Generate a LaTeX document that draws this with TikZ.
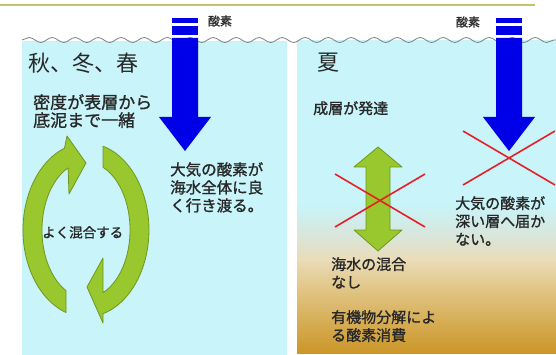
\documentclass[tikz,border=0pt]{standalone}
\usepackage{fontspec}
\setmainfont{Noto Sans CJK JP}
\newfontfamily\heavyjp{Noto Sans CJK JP}[FakeBold=1.2]
\usetikzlibrary{positioning,decorations.pathmorphing}

\definecolor{seacyan}{RGB}{200,244,250}
\definecolor{hazegray}{RGB}{216,230,220}
\definecolor{paletan}{RGB}{234,220,184}
\definecolor{sandtan}{RGB}{224,196,130}
\definecolor{mudbrown}{RGB}{204,150,40}
\definecolor{oxyblue}{RGB}{0,0,232}
\definecolor{mixgreen}{RGB}{152,200,46}
\definecolor{mixedge}{RGB}{112,150,30}
\definecolor{crossred}{RGB}{232,30,40}
\definecolor{labelgray}{RGB}{40,40,40}
\definecolor{rimolive}{RGB}{196,196,110}

% summer column: clear water on top, muddy layer below
\pgfdeclareverticalshading{summersea}{100bp}{color(0bp)=(mudbrown); color(25bp)=(mudbrown);
  color(35bp)=(sandtan); color(40bp)=(paletan); color(44bp)=(hazegray);
  color(49bp)=(seacyan); color(100bp)=(seacyan)}

\begin{document}
\begin{tikzpicture}[x=1pt, y=-1pt]
        \tikzstyle{label}=[inner sep=0pt, align=left, anchor=north west, text=labelgray,
            font=\heavyjp\fontsize{15}{18}\selectfont];
        \tikzstyle{season}=[inner sep=0pt, anchor=west, text=labelgray, font=\fontsize{22}{26}\selectfont];
        \tikzstyle{oxy}=[inner sep=0pt, text=labelgray, font=\heavyjp\fontsize{12}{14}\selectfont];
        \tikzstyle{mixing}=[fill=mixgreen, draw=mixedge, line width=0.8pt, line join=round];
        \tikzstyle{blocked}=[draw=crossred, line width=1.6pt];
        \useasboundingbox (0,0) rectangle (556,355);

        % water columns
        \fill[seacyan] (22,41) rectangle (287,355);
        \shade[shading=summersea] (297,41) rectangle (556,353);
        \draw[rimolive, line width=1.5pt] (0,5) -- (535,5);
        \draw[gray, line width=0.8pt, decorate,
            decoration={snake, segment length=23pt, amplitude=2.5pt}] (22,40) -- (556,40);

        % oxygen from the air
        \foreach \cx in {185,509} {
            \fill[oxyblue] (\cx-13,18) rectangle (\cx+13,23);
            \fill[oxyblue] (\cx-13,26) rectangle (\cx+13,35);
            \fill[oxyblue] (\cx-13,38) -- (\cx+13,38) -- (\cx+13,117) -- (\cx+26,117)
                -- (\cx,151) -- (\cx-26,117) -- (\cx-13,117) -- cycle;
        }
        \node[oxy] (o2-l) at (220,21) {酸素};
        \node[oxy] (o2-r) at (468,22) {酸素};

        % autumn / winter / spring
        \node[season] (cold) at (28,63) {秋、冬、春};
        \node[label, font=\heavyjp\fontsize{17}{18}\selectfont] (dens) at (33,94) {密度が表層から\\底泥まで一緒};
        \fill[mixing] (66,312.5) arc[start angle=108.5, end angle=250, x radius=63, y radius=87]
            -- (67,136) -- (86,163) -- (69,194) -- (68.1,167.9)
            arc[start angle=246, end angle=117, x radius=44, y radius=68] -- cycle;
        \fill[mixing] (103,146.2) arc[start angle=285.7, end angle=434.3, x radius=63, y radius=87]
            -- (103,323) -- (87,287) -- (103,258) -- (103,292.7)
            arc[start angle=427.3, end angle=292.7, x radius=44, y radius=68] -- cycle;
        \node[label, font=\heavyjp\fontsize{13.5}{18}\selectfont] (well) at (42,226) {よく混合する};
        \node[label, font=\heavyjp\fontsize{15.5}{18}\selectfont] (air-l) at (170,162) {大気の酸素が\\海水全体に良\\く行き渡る。};

        % summer
        \node[season] (warm) at (317,63) {夏};
        \node[label] (strat) at (313,101) {成層が発達};
        \fill[mixing] (378,147) -- (402,167) -- (390,167) -- (390,230) -- (402,230) -- (378,251)
            -- (354,230) -- (366,230) -- (366,167) -- (354,167) -- cycle;
        \draw[blocked] (335,174) -- (425,227);
        \draw[blocked] (425,174) -- (335,227);
        \draw[blocked] (463,131) -- (555,185);
        \draw[blocked] (555,131) -- (463,185);
        \node[label] (air-r) at (455,196) {大気の酸素が\\深い層へ届か\\ない。};
        \node[label] (nomix) at (331,257) {海水の混合\\なし};
        \node[label] (decay) at (331,310) {有機物分解によ\\る酸素消費};
    \end{tikzpicture}
\end{document}
